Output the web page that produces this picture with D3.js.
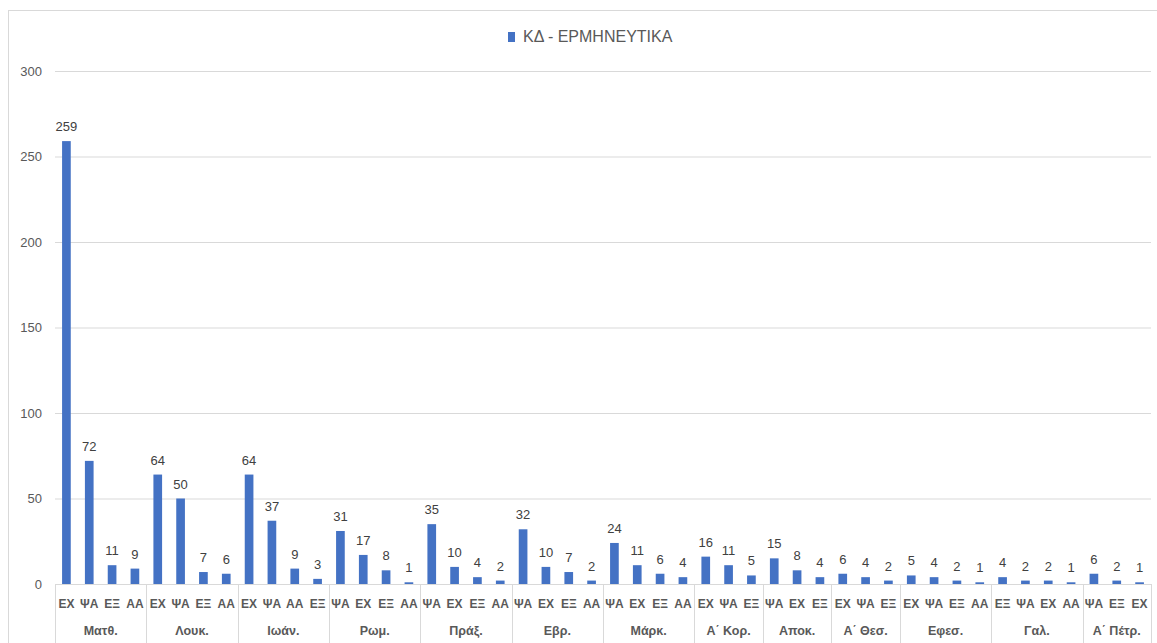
<!DOCTYPE html>
<html><head><meta charset="utf-8">
<script src="https://cdn.jsdelivr.net/npm/d3@7"></script>
<style>
html,body{margin:0;padding:0;background:#fff;}
svg{display:block;font-family:"Liberation Sans",Arial,sans-serif;}
</style></head>
<body><svg id="c" width="1157" height="643"></svg>
<script>
const seriesName = "ΚΔ - ΕΡΜΗΝΕΥΤΙΚΑ";
const groups = ["Ματθ.","Λουκ.","Ιωάν.","Ρωμ.","Πράξ.","Εβρ.","Μάρκ.","Α΄ Κορ.","Αποκ.","Α΄ Θεσ.","Εφεσ.","Γαλ.","Α΄ Πέτρ."];
const subLabels = [
  ["ΕΧ","ΨΑ","ΕΞ","ΑΑ"],
  ["ΕΧ","ΨΑ","ΕΞ","ΑΑ"],
  ["ΕΧ","ΨΑ","ΑΑ","ΕΞ"],
  ["ΨΑ","ΕΧ","ΕΞ","ΑΑ"],
  ["ΨΑ","ΕΧ","ΕΞ","ΑΑ"],
  ["ΨΑ","ΕΧ","ΕΞ","ΑΑ"],
  ["ΨΑ","ΕΧ","ΕΞ","ΑΑ"],
  ["ΕΧ","ΨΑ","ΕΞ"],
  ["ΨΑ","ΕΧ","ΕΞ"],
  ["ΕΧ","ΨΑ","ΕΞ"],
  ["ΕΧ","ΨΑ","ΕΞ","ΑΑ"],
  ["ΕΞ","ΨΑ","ΕΧ","ΑΑ"],
  ["ΨΑ","ΕΞ","ΕΧ"]
];
const values = [
  [259,72,11,9],
  [64,50,7,6],
  [64,37,9,3],
  [31,17,8,1],
  [35,10,4,2],
  [32,10,7,2],
  [24,11,6,4],
  [16,11,5],
  [15,8,4],
  [6,4,2],
  [5,4,2,1],
  [4,2,2,1],
  [6,2,1]
];
const yTicks = [0,50,100,150,200,250,300];

const bars = [];
groups.forEach((g,gi)=>subLabels[gi].forEach((s,si)=>bars.push({key:gi+"|"+si,group:g,gi,sub:s,value:values[gi][si]})));

const svg = d3.select("#c");
const pLeft=55, pRight=1151, pTop=71, pBottom=584;
const x = d3.scaleBand().domain(bars.map(d=>d.key)).range([pLeft,pRight]).paddingInner(0.62).paddingOuter(0.31);
const y = d3.scaleLinear().domain([0,300]).range([pBottom,pTop]);
const color="#4472C4", textCol="#595959";

// outer frame
svg.append("rect").attr("x",8.5).attr("y",10.5).attr("width",1160).attr("height",700).attr("fill","none").attr("stroke","#d9d9d9");

// grid
const gy = svg.append("g").attr("transform",`translate(${pLeft},0)`)
  .call(d3.axisLeft(y).tickValues(yTicks).tickSize(-(pRight-pLeft)).tickPadding(13).tickFormat(d3.format("d")));
gy.select(".domain").remove();
gy.selectAll(".tick line").attr("stroke","#d9d9d9").attr("stroke-width",1);
gy.selectAll(".tick text").attr("fill",textCol).attr("font-size",13).attr("font-family","Liberation Sans, Arial, sans-serif");

// bars
svg.append("g").selectAll("rect").data(bars).join("rect")
  .attr("x",d=>x(d.key)).attr("width",x.bandwidth())
  .attr("y",d=>y(d.value)).attr("height",d=>y(0)-y(d.value)).attr("fill",color);

// data labels
svg.append("g").selectAll("text").data(bars).join("text")
  .attr("x",d=>x(d.key)+x.bandwidth()/2).attr("y",d=>y(d.value)-10)
  .attr("text-anchor","middle").attr("font-size",13).attr("fill","#404040").text(d=>d.value);

// x axis: sub labels
const xa = svg.append("g").attr("transform",`translate(0,${pBottom})`)
  .call(d3.axisBottom(x).tickSize(0).tickPadding(15).tickFormat(k=>bars.find(b=>b.key===k).sub));
xa.select(".domain").attr("stroke","#d9d9d9");
xa.selectAll(".tick text").attr("fill",textCol).attr("font-size",12).attr("font-weight","bold").attr("font-family","Liberation Sans, Arial, sans-serif");

// group separators and labels
const step = x.step();
let idx=0;
const bounds=[];
groups.forEach((g,gi)=>{
  const n=subLabels[gi].length;
  const x0 = pLeft + idx*step, x1 = pLeft+(idx+n)*step;
  bounds.push({g,x0,x1});
  idx+=n;
});
const sepX = [pLeft].concat(bounds.map(b=>b.x1));
svg.append("g").selectAll("line").data(sepX).join("line")
  .attr("x1",d=>Math.round(d)+0.5).attr("x2",d=>Math.round(d)+0.5).attr("y1",pBottom).attr("y2",643)
  .attr("stroke","#d9d9d9");
svg.append("g").selectAll("text").data(bounds).join("text")
  .attr("x",d=>(d.x0+d.x1)/2).attr("y",635).attr("text-anchor","middle")
  .attr("font-size",12.5).attr("font-weight","bold").attr("fill",textCol).text(d=>d.g);

// legend
const leg = svg.append("g");
leg.append("text").attr("x",523).attr("y",42).attr("font-size",16).attr("fill",textCol).text(seriesName);
leg.append("rect").attr("x",508).attr("y",32).attr("width",7).attr("height",10).attr("fill",color);
</script></body></html>
